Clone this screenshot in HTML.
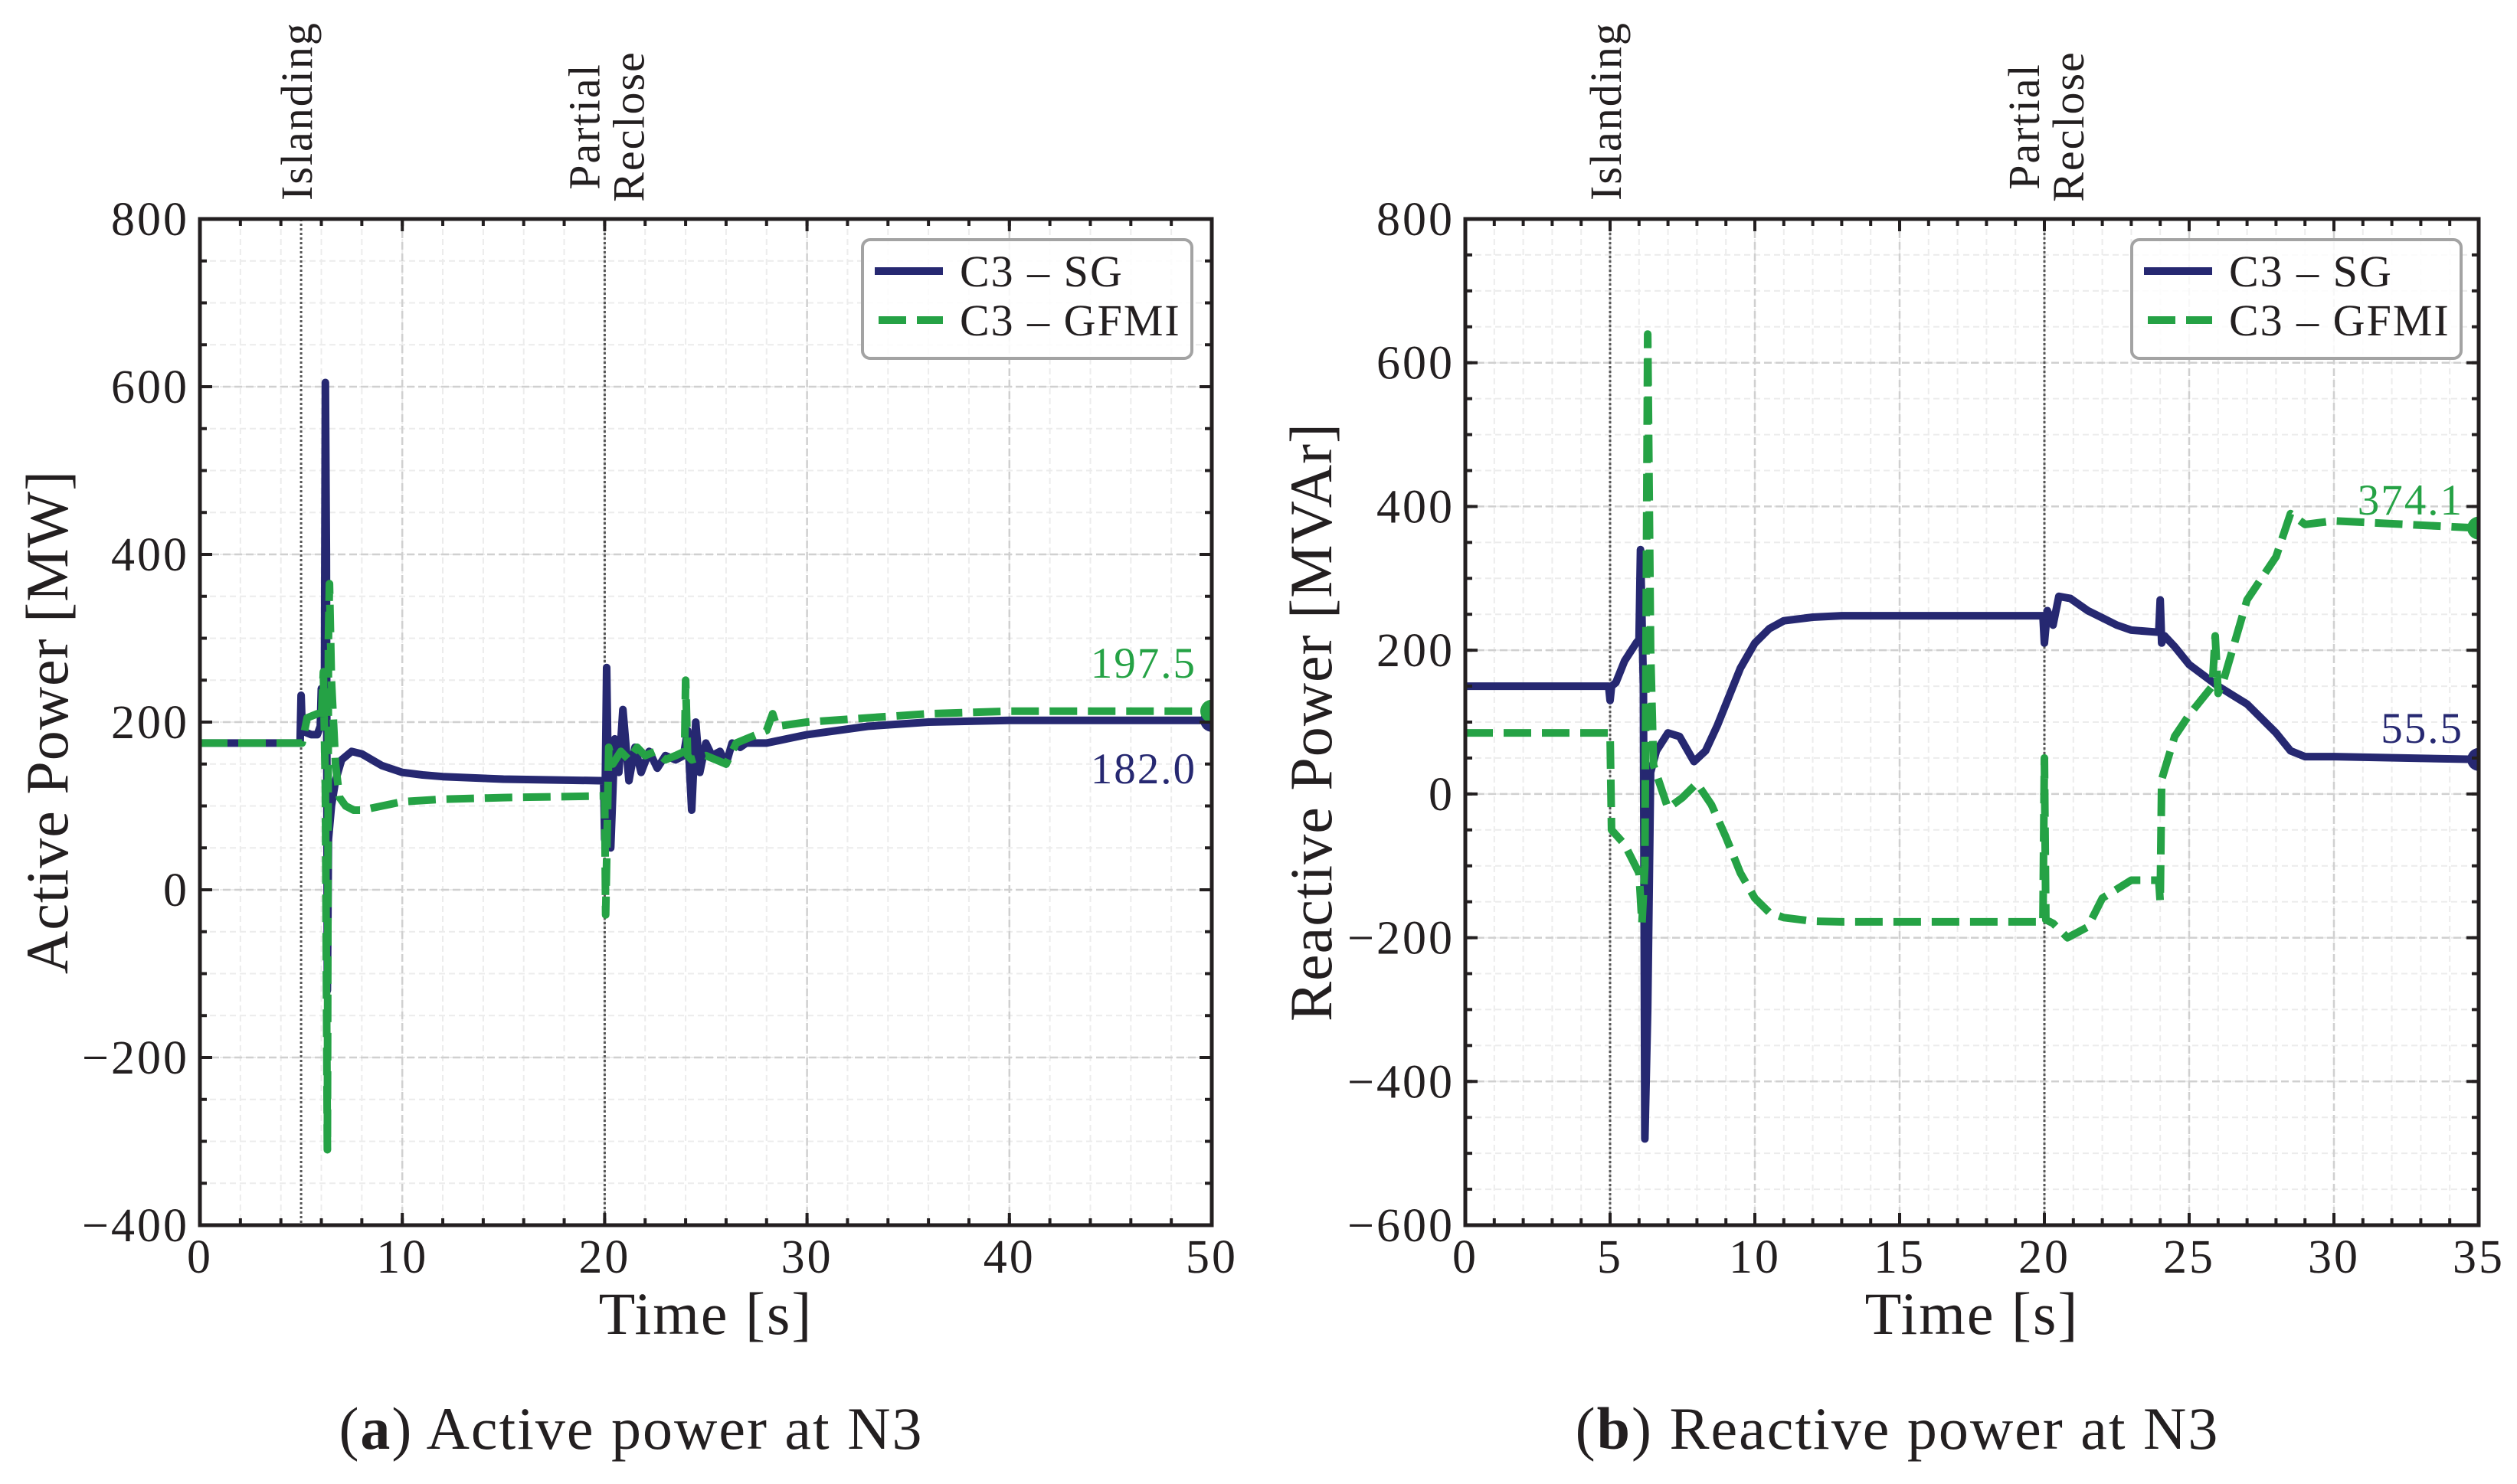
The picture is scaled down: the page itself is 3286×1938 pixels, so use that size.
<!DOCTYPE html>
<html><head><meta charset="utf-8"><style>
html,body{margin:0;padding:0;background:#fff;}
svg{display:block;}
text{font-family:"Liberation Serif","DejaVu Serif",serif;fill:#231f20;}
</style></head><body>
<svg id="fig" width="3286" height="1938" viewBox="0 0 3286 1938" xmlns="http://www.w3.org/2000/svg"></svg>
<script>
// ---- Panel (a) data: active power ----
const aSgT   = [0,4.95,5.0,5.05,5.2,5.5,5.8,5.95,6.0,6.1,6.15,6.2,6.25,6.3,6.35,6.5,6.7,7.0,7.5,8,8.5,9,10,11,12,15,19.95,20.0,20.1,20.2,20.3,20.5,20.7,20.9,21.2,21.5,21.8,22.2,22.6,23,23.5,23.9,24.1,24.3,24.5,24.7,25,25.3,25.7,26,26.3,26.7,27,28,29,30,33,36,40,45,50];
const aSgV   = [175,175,232,195,188,185,185,195,240,230,200,605,400,-120,60,100,130,155,165,162,155,148,140,137,135,132,130,60,265,90,50,180,140,215,130,170,140,165,145,160,155,160,190,95,200,140,175,160,165,150,175,170,175,175,180,185,195,200,202,202,202];
const aGfT   = [0,4.95,5.05,5.3,5.8,6.0,6.1,6.2,6.3,6.35,6.4,6.5,6.7,6.9,7.2,7.6,8,9,10,12,15,19.95,20.0,20.05,20.2,20.4,20.8,21.2,21.6,22,22.5,23,23.5,23.95,24.0,24.1,24.3,25,26,26.5,27,28,28.3,28.5,30,33,36,40,45,50];
const aGfV   = [175,175,175,205,210,200,260,120,-310,300,365,250,150,110,100,95,95,100,105,108,110,112,112,-30,170,150,165,155,170,160,165,155,160,165,250,160,155,160,150,175,180,190,210,195,200,205,210,213,213,213];
const aTicksX = [0,10,20,30,40,50];
const aTicksY = [-400,-200,0,200,400,600,800];
const aEnd = ["197.5","182.0"];

// ---- Panel (b) data: reactive power ----
const bSgT = [0,4.95,5.0,5.05,5.2,5.5,5.9,6.0,6.05,6.15,6.2,6.3,6.4,6.6,7.0,7.4,7.9,8.3,8.7,9.1,9.5,10,10.5,11,12,13,19.95,20.0,20.1,20.3,20.5,20.9,21.5,22,22.5,23,23.95,24.0,24.05,24.15,24.5,25,26,27,28,28.5,29,30,35];
const bSgV = [150,150,130,150,155,185,210,215,340,150,-480,-300,30,60,85,80,45,60,95,135,175,210,230,241,246,248,248,210,255,235,275,272,255,245,235,228,225,270,210,220,205,180,150,125,85,60,52,52,48];
const bGfT = [0,4.95,5.0,5.05,5.5,6.0,6.1,6.2,6.3,6.4,6.5,7.0,7.5,8.0,8.5,9,9.5,10,10.5,11,12,13,19.95,20.0,20.05,20.3,20.8,21.5,22,23,23.95,24.0,24.05,24.5,25,25.8,25.9,26.0,26.2,27,28,28.5,29,30,35];
const bGfV = [85,85,85,-50,-70,-110,-180,-100,640,200,40,-20,-5,15,-15,-60,-110,-145,-165,-172,-177,-178,-178,50,-175,-180,-200,-185,-145,-120,-120,-150,20,80,110,150,220,140,160,270,330,390,375,380,370];
const bTicksX = [0,5,10,15,20,25,30,35];
const bTicksY = [-600,-400,-200,0,200,400,600,800];
const bEnd = ["374.1","55.5"];

const NAVY = '#262871', GREEN = '#25a245';
const NS = 'http://www.w3.org/2000/svg';
const svg = document.getElementById('fig');
function mk(tag, attrs, parent){ const e=document.createElementNS(NS,tag); for(const k in attrs) e.setAttribute(k,attrs[k]); (parent||svg).appendChild(e); return e; }

function panel(cfg){
  const g = mk('g',{});
  
  
  const L=cfg.L,R=cfg.R,T=286,B=1600;
  const sx = v => L + (v-cfg.x0)/(cfg.x1-cfg.x0)*(R-L);
  const sy = v => B - (v-cfg.y0)/(cfg.y1-cfg.y0)*(B-T);
  const clipId = cfg.name+'-clip';
  const cp = mk('clipPath',{id:clipId},g); mk('rect',{x:L,y:T,width:R-L,height:B-T},cp);
  for(let v=cfg.x0; v<=cfg.x1+1e-9; v+=cfg.mx){ mk('line',{x1:sx(v),x2:sx(v),y1:T,y2:B,stroke:'#ececec','stroke-width':2,'stroke-dasharray':'8,5'},g); }
  for(let v=cfg.y0; v<=cfg.y1+1e-9; v+=50){ mk('line',{x1:L,x2:R,y1:sy(v),y2:sy(v),stroke:'#ececec','stroke-width':2,'stroke-dasharray':'8,5'},g); }
  cfg.tx.forEach(v=>mk('line',{x1:sx(v),x2:sx(v),y1:T,y2:B,stroke:'#d0d0d0','stroke-width':2.5,'stroke-dasharray':'10,5'},g));
  cfg.ty.forEach(v=>mk('line',{x1:L,x2:R,y1:sy(v),y2:sy(v),stroke:'#d0d0d0','stroke-width':2.5,'stroke-dasharray':'10,5'},g));
  [5,20].forEach(v=>{ const l=mk('line',{x1:sx(v),x2:sx(v),y1:T,y2:B,stroke:'#555','stroke-width':3,'stroke-dasharray':'3,3'},g);   });
  const cg = mk('g',{'clip-path':'url(#'+clipId+')'},g);
  function path(ts,vs){ return ts.map((t,i)=>(i?'L':'M')+sx(t).toFixed(1)+','+sy(vs[i]).toFixed(1)).join(''); }
  const p1 = mk('path',{d:path(cfg.sgT,cfg.sgV),fill:'none',stroke:NAVY,'stroke-width':10,'stroke-linejoin':'round','stroke-linecap':'round'},cg);
   
  const p2 = mk('path',{d:path(cfg.gfT,cfg.gfV),fill:'none',stroke:GREEN,'stroke-width':10,'stroke-dasharray':'36,14','stroke-linejoin':'round'},cg);
   
  const n1=cfg.sgT.length-1, n2=cfg.gfT.length-1;
  const m1=mk('circle',{cx:sx(cfg.sgT[n1]),cy:sy(cfg.sgV[n1]),r:15,fill:NAVY},cg);  
  const m2=mk('circle',{cx:sx(cfg.gfT[n2]),cy:sy(cfg.gfV[n2]),r:15,fill:GREEN},cg);  
  const e1=mk('text',{x:R-20,y:cfg.gLabY,'font-size':57,'letter-spacing':2,'text-anchor':'end',style:'fill:'+GREEN},g); e1.textContent=cfg.end[0];
   
  const e2=mk('text',{x:R-20,y:cfg.sLabY,'font-size':57,'letter-spacing':2,'text-anchor':'end',style:'fill:'+NAVY},g); e2.textContent=cfg.end[1];
   
  mk('rect',{x:L,y:T,width:R-L,height:B-T,fill:'none',stroke:'#231f20','stroke-width':5},g);
  for(let v=cfg.x0; v<=cfg.x1+1e-9; v+=cfg.mx){ const X=sx(v); mk('line',{x1:X,x2:X,y1:B,y2:B-9,stroke:'#231f20','stroke-width':4},g); mk('line',{x1:X,x2:X,y1:T,y2:T+9,stroke:'#231f20','stroke-width':4},g); }
  for(let v=cfg.y0; v<=cfg.y1+1e-9; v+=50){ const Y=sy(v); mk('line',{x1:L,x2:L+9,y1:Y,y2:Y,stroke:'#231f20','stroke-width':4},g); mk('line',{x1:R,x2:R-9,y1:Y,y2:Y,stroke:'#231f20','stroke-width':4},g); }
  cfg.tx.forEach(v=>{ const X=sx(v); mk('line',{x1:X,x2:X,y1:B,y2:B-16,stroke:'#231f20','stroke-width':4},g); mk('line',{x1:X,x2:X,y1:T,y2:T+16,stroke:'#231f20','stroke-width':4},g);
    const t=mk('text',{x:X,y:1662,'font-size':62,'letter-spacing':3,'text-anchor':'middle'},g); t.textContent=String(v);
      });
  cfg.ty.forEach(v=>{ const Y=sy(v); mk('line',{x1:L,x2:L+16,y1:Y,y2:Y,stroke:'#231f20','stroke-width':4},g); mk('line',{x1:R,x2:R-16,y1:Y,y2:Y,stroke:'#231f20','stroke-width':4},g);
    const t=mk('text',{x:L-14,y:Y+21,'font-size':62,'letter-spacing':3,'text-anchor':'end'},g); t.textContent=(v<0?'\u2212'+(-v):String(v));
      });
  const xt=mk('text',{x:(L+R)/2,y:1742,'font-size':78,'letter-spacing':2,'text-anchor':'middle'},g); xt.textContent='Time [s]';
   
  const yt=mk('text',{x:0,y:0,'font-size':78,'letter-spacing':1,'text-anchor':'middle',transform:'translate('+cfg.ytX+','+((T+B)/2)+') rotate(-90)'},g); yt.textContent=cfg.ytitle;
   
  const i1=mk('text',{x:0,y:0,'font-size':58,'letter-spacing':2,'text-anchor':'start',transform:'translate('+(sx(5)+14)+',262) rotate(-90)'},g); i1.textContent='Islanding';
   
  const r1=mk('text',{x:0,y:0,'font-size':58,'letter-spacing':2,'text-anchor':'middle',transform:'translate('+(sx(20)-7)+',165) rotate(-90)'},g); r1.textContent='Partial';
   
  const r2=mk('text',{x:0,y:0,'font-size':58,'letter-spacing':2,'text-anchor':'middle',transform:'translate('+(sx(20)+51)+',165) rotate(-90)'},g); r2.textContent='Reclose';
   
  const lg=mk('g',{},g);  
  const lx=cfg.legX;
  mk('rect',{x:lx,y:313,width:430,height:155,rx:10,fill:'#fff','fill-opacity':0.85,stroke:'#a3a3a3','stroke-width':4},lg);
  mk('line',{x1:lx+16,x2:lx+105,y1:354,y2:354,stroke:NAVY,'stroke-width':10},lg);
  mk('line',{x1:lx+21,x2:lx+105,y1:418,y2:418,stroke:GREEN,'stroke-width':10,'stroke-dasharray':'36,14'},lg);
  const l1=mk('text',{x:lx+127,y:374,'font-size':58,'letter-spacing':2},lg); l1.textContent='C3 \u2013 SG';
   
  const l2=mk('text',{x:lx+127,y:438,'font-size':58,'letter-spacing':2},lg); l2.textContent='C3 \u2013 GFMI';
   
  const c=mk('text',{x:cfg.capX,y:1892,'font-size':78,'letter-spacing':2,'text-anchor':'middle'},g);
   
  c.innerHTML='(<tspan font-weight="bold">'+cfg.letter+'</tspan>) '+cfg.caption;
}

panel({name:'panel-active-power',L:261,R:1582,x0:0,x1:50,y0:-400,y1:800,mx:2,tx:aTicksX,ty:aTicksY,
  sgT:aSgT,sgV:aSgV,gfT:aGfT,gfV:aGfV,end:aEnd,gLabY:885,sLabY:1023,ytX:88,ytitle:'Active Power [MW]',
  legX:1126,capX:824,letter:'a',caption:'Active power at N3'});
panel({name:'panel-reactive-power',L:1913,R:3236,x0:0,x1:35,y0:-600,y1:800,mx:1,tx:bTicksX,ty:bTicksY,
  sgT:bSgT,sgV:bSgV,gfT:bGfT,gfV:bGfV,end:bEnd,gLabY:672,sLabY:970,ytX:1738,ytitle:'Reactive Power [MVAr]',
  legX:2783,capX:2477,letter:'b',caption:'Reactive power at N3'});
</script>
</body></html>
